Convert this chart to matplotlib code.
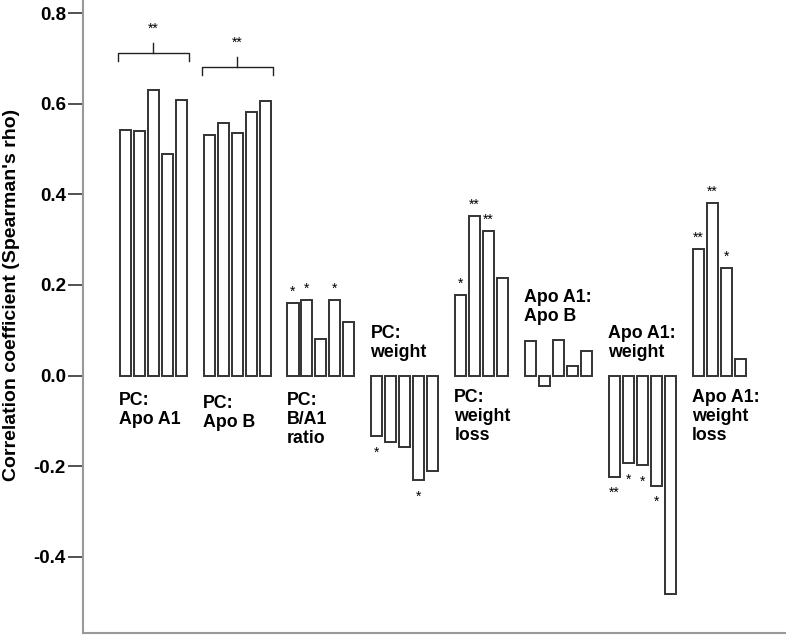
import matplotlib.pyplot as plt
import numpy as np

plt.rcParams['font.family'] = ['Liberation Sans', 'DejaVu Sans']

# Spearman's rho per comparison group
groups = ["PC:\nApo A1", "PC:\nApo B", "PC:\nB/A1\nratio", "PC:\nweight",
          "PC:\nweight\nloss", "Apo A1:\nApo B", "Apo A1:\nweight",
          "Apo A1:\nweight\nloss"]
values = [
    [0.543, 0.540, 0.631, 0.490, 0.608],
    [0.530, 0.558, 0.536, 0.582, 0.607],
    [0.160, 0.166, 0.081, 0.166, 0.119],
    [-0.134, -0.147, -0.157, -0.231, -0.210],
    [0.177, 0.352, 0.319, 0.216],
    [0.076, -0.023, 0.079, 0.022, 0.055],
    [-0.223, -0.193, -0.197, -0.243, -0.482],
    [0.280, 0.382, 0.238, 0.036],
]
stars = [
    ["", "", "", "", ""],
    ["", "", "", "", ""],
    ["*", "*", "", "*", ""],
    ["*", "", "", "*", ""],
    ["*", "**", "**", ""],
    ["", "", "", "", ""],
    ["**", "*", "*", "*", ""],
    ["**", "**", "*", ""],
]
bracket_groups = [0, 1]

# layout
label_y = [-0.036, -0.043, -0.036, 0.112, -0.03, 0.19, 0.112, -0.03]
bracket_y = [0.713, 0.682]

fig = plt.figure(figsize=(7.87, 6.38), dpi=100)
ax = fig.add_axes([0.105, 0.008, 0.893, 0.992])

slot = 0
for g, vals in enumerate(values):
    xs = slot + np.arange(len(vals))
    ax.bar(xs, vals, width=0.79, facecolor='white', edgecolor='#333333',
           linewidth=1.4, zorder=2)
    for x, v, s in zip(xs, vals, stars[g]):
        if not s:
            continue
        if v >= 0:
            ax.annotate(s, (x, v), xytext=(0, 3), textcoords='offset points',
                        ha='center', va='bottom', fontsize=10)
        else:
            ax.annotate(s, (x, v), xytext=(0, -17), textcoords='offset points',
                        ha='center', va='bottom', fontsize=10)
    ax.text(xs[0] - 0.45, label_y[g], groups[g], ha='left', va='top',
            fontsize=12.8, fontweight='bold', linespacing=1.15)
    if g in bracket_groups:
        yb = bracket_y[bracket_groups.index(g)]
        x0, x1 = xs[0] - 0.55, xs[-1] + 0.55
        xm = (x0 + x1) / 2
        ax.plot([x0, x0, x1, x1], [yb - 0.018, yb, yb, yb - 0.018],
                color='#222222', lw=1.0)
        ax.plot([xm, xm], [yb, yb + 0.022], color='#222222', lw=1.0)
        ax.text(xm, yb + 0.038, "**", ha='center', va='bottom', fontsize=10)
    slot += len(vals) + 1

ax.set_xlim(-3.06, 47.25)
ax.set_ylim(-0.568, 0.829)
ax.set_yticks([0.8, 0.6, 0.4, 0.2, 0.0, -0.2, -0.4])
ax.set_yticklabels(['%.1f' % t for t in [0.8, 0.6, 0.4, 0.2, 0.0, -0.2, -0.4]],
                   fontsize=13.5, fontweight='bold')
ax.set_xticks([])
ax.tick_params(axis='y', length=11, width=1.2, color='#333333', pad=1)
for side in ['top', 'right']:
    ax.spines[side].set_visible(False)
for side in ['left', 'bottom']:
    ax.spines[side].set_color('#999999')
    ax.spines[side].set_linewidth(1.5)

fig.text(0.014, 1 - 295 / 638, "Correlation coefficient (Spearman's rho)",
         rotation=90, ha='center', va='center', fontsize=14, fontweight='bold')

fig.savefig('out.png', dpi=100)
